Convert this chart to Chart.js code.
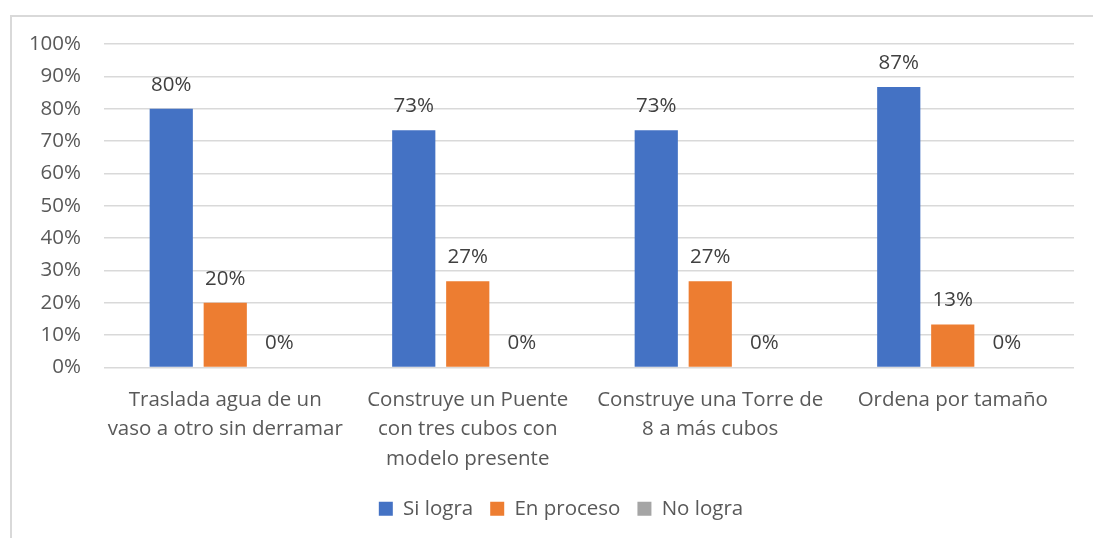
<!DOCTYPE html>
<html>
<head>
<meta charset="utf-8">
<script src="https://cdn.jsdelivr.net/npm/chart.js@4/dist/chart.umd.min.js"></script>
<style>
  html, body { margin: 0; padding: 0; background: #fff; }
  #frame { position: absolute; left: 10px; top: 15px; width: 1100px; height: 540px;
           border-left: 2px solid #d9d9d9; border-top: 2px solid #d9d9d9; }
  #wrap { position: absolute; left: 0; top: 0; width: 1093px; height: 538px; }
</style>
</head>
<body>
<div id="frame"></div>
<div id="wrap"><canvas id="chart" width="1093" height="538"></canvas></div>
<script>
const categories = [
  ['Traslada agua de un', 'vaso a otro sin derramar'],
  ['Construye un Puente', 'con tres cubos con', 'modelo presente'],
  ['Construye una Torre de', '8 a más cubos'],
  ['Ordena por tamaño']
];
const siLogra = [80, 73.33, 73.33, 86.67];
const enProceso = [20, 26.67, 26.67, 13.33];
const noLogra = [0, 0, 0, 0];
const seriesNames = ['Si logra', 'En proceso', 'No logra'];
const yTicks = [0, 10, 20, 30, 40, 50, 60, 70, 80, 90, 100];

const FONT = '"Open Sans", "Liberation Sans", sans-serif';
const SIZE = 20.5;

// draw the value labels above each bar
const valueLabels = {
  id: 'valueLabels',
  afterLayout(chart) {
    // legend sits a bit right of centre in the original
    chart.legend.left += 24;
    chart.legend.right += 24;
  },
  afterDatasetsDraw(chart) {
    const ctx = chart.ctx;
    ctx.save();
    ctx.font = SIZE + 'px ' + FONT;
    ctx.fillStyle = '#404040';
    ctx.textAlign = 'center';
    ctx.textBaseline = 'middle';
    chart.data.datasets.forEach((ds, i) => {
      chart.getDatasetMeta(i).data.forEach((bar, j) => {
        ctx.fillText(Math.round(ds.data[j]) + '%', bar.x, bar.y - 24);
      });
    });
    ctx.restore();
  }
};

new Chart(document.getElementById('chart'), {
  type: 'bar',
  data: {
    labels: categories,
    datasets: [
      { label: seriesNames[0], data: siLogra, backgroundColor: '#4472c4' },
      { label: seriesNames[1], data: enProceso, backgroundColor: '#ed7d31' },
      { label: seriesNames[2], data: noLogra, backgroundColor: '#a5a5a5' }
    ]
  },
  options: {
    responsive: false,
    animation: false,
    categoryPercentage: 0.668,
    barPercentage: 0.8,
    layout: { padding: { left: 0, right: 19, top: 44, bottom: 9 } },
    plugins: {
      tooltip: { enabled: false },
      legend: {
        position: 'bottom',
        labels: {
          boxWidth: 14,
          boxHeight: 14,
          padding: 17,
          color: '#595959',
          font: { family: FONT, size: SIZE }
        }
      }
    },
    scales: {
      x: {
        grid: { display: false },
        border: { display: false },
        ticks: {
          color: '#595959',
          padding: 10,
          maxRotation: 0,
          font: { family: FONT, size: SIZE, lineHeight: 1.43 }
        },
        afterFit(scale) { scale.height = 114; }
      },
      y: {
        min: 0,
        max: 100,
        afterBuildTicks(scale) { scale.ticks = yTicks.map(v => ({ value: v })); },
        afterFit(scale) { scale.width = 104; },
        grid: { color: '#d9d9d9', lineWidth: 1.5, drawTicks: false },
        border: { display: false },
        ticks: {
          color: '#595959',
          padding: 23,
          font: { family: FONT, size: SIZE },
          callback: v => v + '%'
        }
      }
    }
  },
  plugins: [valueLabels]
});
</script>
</body>
</html>
